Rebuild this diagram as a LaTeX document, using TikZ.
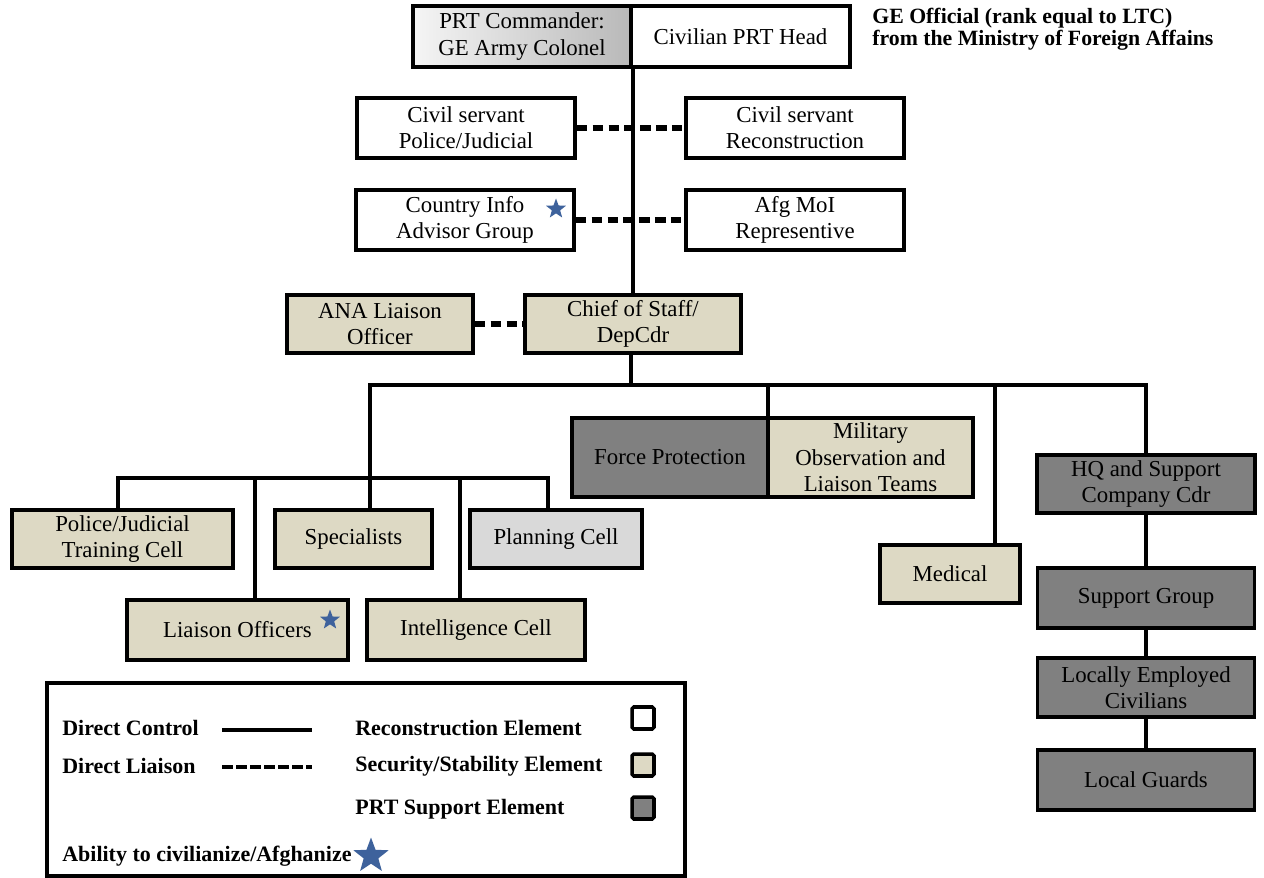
\documentclass[tikz,border=0pt]{standalone}
\usepackage{fontspec}
\setmainfont{Liberation Serif}
\usetikzlibrary{shapes.geometric}

\definecolor{tancol}{RGB}{221,217,196}
\definecolor{supcol}{RGB}{128,128,128}
\definecolor{plancol}{RGB}{217,217,217}
\definecolor{starcol}{RGB}{62,98,156}

\begin{document}
\begin{tikzpicture}[
    x=0.02cm, y=-0.02cm,
    box/.style={draw, line width=2.2pt, fill=white, align=center, inner sep=0pt, minimum width=4.36cm, minimum height=1.2cm, font=\fontsize{13}{15}\selectfont},
    secbox/.style={box, fill=tancol},
    supbox/.style={box, fill=supcol},
    planbox/.style={box, fill=plancol},
    control/.style={draw, line width=2.3pt},
    liaison/.style={draw, line width=3pt, dash pattern=on 6pt off 3pt},
    legtext/.style={anchor=west, inner sep=0pt, font=\bfseries\fontsize{12.5}{13}\selectfont},
    legsquare/.style={draw, line width=2pt, rounded corners=1pt, minimum size=0.44cm, inner sep=0pt},
    civstar/.style={star, star points=5, star point ratio=2.4, fill=starcol, minimum size=0.42cm, inner sep=0pt}
  ]
  \useasboundingbox (0,0) rectangle (1264,878);

  \coordinate (cmdrp) at (522, 36.5);
  \coordinate (headp) at (740.5, 36.5);

  \coordinate (cspolp) at (466, 128);
  \coordinate (csrecp) at (795, 128);
  \coordinate (cinfop) at (465, 220);
  \coordinate (afgp)   at (795, 220);

  \coordinate (anap) at (380, 324);
  \coordinate (cosp) at (633, 324);

  \coordinate (fpp)  at (670, 457.5);
  \coordinate (milp) at (870.5, 457.5);
  \coordinate (medp) at (950, 574);

  \coordinate (hqp)  at (1146, 484);
  \coordinate (sgp)  at (1146, 598);
  \coordinate (lecp) at (1146, 687.5);
  \coordinate (lgp)  at (1146, 780);

  \coordinate (ptcp)   at (122.5, 539);
  \coordinate (specp)  at (353.5, 539);
  \coordinate (planp)  at (556, 539);
  \coordinate (lop)    at (237.5, 630);
  \coordinate (intelp) at (476, 630);

  % Bus junctions
  \coordinate (busL)   at (370, 385);
  \coordinate (busMid) at (631, 385);
  \coordinate (busFP)  at (768, 385);
  \coordinate (busMed) at (995, 385);
  \coordinate (busR)   at (1146, 385);

  \coordinate (subL)  at (118, 478);
  \coordinate (subLO) at (255, 478);
  \coordinate (subIC) at (460, 478);
  \coordinate (subR)  at (548, 478);

  % Command
  \node[box, left color=gray!8, right color=gray!55, minimum height=1.22cm] (cmdr) at (cmdrp) {PRT Commander:\\GE Army Colonel};
  \node[box, minimum width=4.38cm, minimum height=1.22cm] (head) at (headp) {Civilian PRT Head};
  \node[anchor=north west, align=left, inner sep=0pt, font=\bfseries\fontsize{12.4}{12.5}\selectfont] (geoff) at (872, 8) {GE Official (rank equal to LTC)\\from the Ministry of Foreign Affains};

  % Staff
  \node[box] (cspol) at (cspolp) {Civil servant\\Police/Judicial};
  \node[box] (csrec) at (csrecp) {Civil servant\\Reconstruction};
  \node[box] (cinfo) at (cinfop) {Country Info\\Advisor Group};
  \node[box] (afg)   at (afgp)   {Afg MoI\\Representive};
  \node[civstar] (cinfostar) at (556, 209) {};

  \node[secbox, minimum width=3.72cm, minimum height=1.16cm] (ana) at (anap) {ANA Liaison\\Officer};
  \node[secbox, minimum width=4.32cm, minimum height=1.16cm] (cos) at (cosp) {Chief of Staff/\\DepCdr};

  % Right branch
  \node[supbox, minimum width=3.92cm, minimum height=1.58cm] (fp) at (fpp) {Force Protection};
  \node[secbox, minimum width=4.1cm, minimum height=1.58cm] (mil) at (milp) {Military\\Observation and\\Liaison Teams};
  \node[secbox, minimum width=2.8cm, minimum height=1.16cm] (med) at (medp) {Medical};

  \node[supbox, minimum height=1.16cm] (hq) at (hqp) {HQ and Support\\Company Cdr};
  \node[supbox, minimum width=4.34cm] (sg) at (sgp) {Support Group};
  \node[supbox, minimum width=4.34cm, minimum height=1.18cm] (lec) at (lecp) {Locally Employed\\Civilians};
  \node[supbox, minimum width=4.34cm] (lg) at (lgp) {Local Guards};

  % Left branch
  \node[secbox, minimum width=4.42cm, minimum height=1.16cm] (ptc) at (ptcp) {Police/Judicial\\Training Cell};
  \node[secbox, minimum width=3.14cm, minimum height=1.16cm] (spec) at (specp) {Specialists};
  \node[planbox, minimum width=3.44cm, minimum height=1.16cm] (plan) at (planp) {Planning Cell};
  \node[secbox, minimum width=4.42cm] (lo) at (lop) {Liaison Officers};
  \node[secbox] (intel) at (intelp) {Intelligence Cell};
  \node[civstar] (lostar) at (330, 620) {};

  % Connect the boxes
  \draw[control] (cmdr.south east) -- (cmdr.south east |- cos.north);
  \draw[liaison] (cspol) -- (csrec);
  \draw[liaison] (cinfo) -- (afg);
  \draw[liaison] (ana) -- (cos);

  \draw[control] (busMid |- cos.south) -- (busMid);
  \draw[control] (busL |- spec.north) -- (busL) -- (busR) -- (hq);
  \draw[control] (busFP) -- (busFP |- fp.north);
  \draw[control] (busMed) -- (busMed |- med.north);

  \draw[control] (hq) -- (sg);
  \draw[control] (sg) -- (lec);
  \draw[control] (lec) -- (lg);

  \draw[control] (subL |- ptc.north) -- (subL) -- (subR) -- (subR |- plan.north);
  \draw[control] (subLO) -- (subLO |- lo.north);
  \draw[control] (subIC) -- (subIC |- intel.north);

  % Legend
  \node[draw, line width=2.2pt, minimum width=12.76cm, minimum height=3.86cm, inner sep=0pt] (legend) at (366, 779.5) {};
  \node[legtext] (lgctl) at (62, 728) {Direct Control};
  \node[legtext] (lglia) at (62, 766) {Direct Liaison};
  \node[legtext] (lgrec) at (355, 728) {Reconstruction Element};
  \node[legtext] (lgsec) at (355, 766) {Security/Stability Element};
  \node[legtext] (lgsup) at (355, 809) {PRT Support Element};
  \node[legtext] (lgciv) at (62, 856) {Ability to civilianize/Afghanize};

  \coordinate (ctlA) at (222, 730);
  \coordinate (ctlB) at (312, 730);
  \coordinate (liaA) at (222, 767);
  \coordinate (liaB) at (312, 767);
  \draw[control, line width=2.6pt] (ctlA) -- (ctlB);
  \draw[liaison, line width=2.6pt, dash pattern=on 6pt off 2pt] (liaA) -- (liaB);

  \node[legsquare, fill=white]  (sqrec) at (643, 718) {};
  \node[legsquare, fill=tancol] (sqsec) at (643, 765) {};
  \node[legsquare, fill=supcol] (sqsup) at (643, 808) {};
  \node[civstar, minimum size=0.74cm] (legstar) at (371, 856) {};

\end{tikzpicture}
\end{document}
